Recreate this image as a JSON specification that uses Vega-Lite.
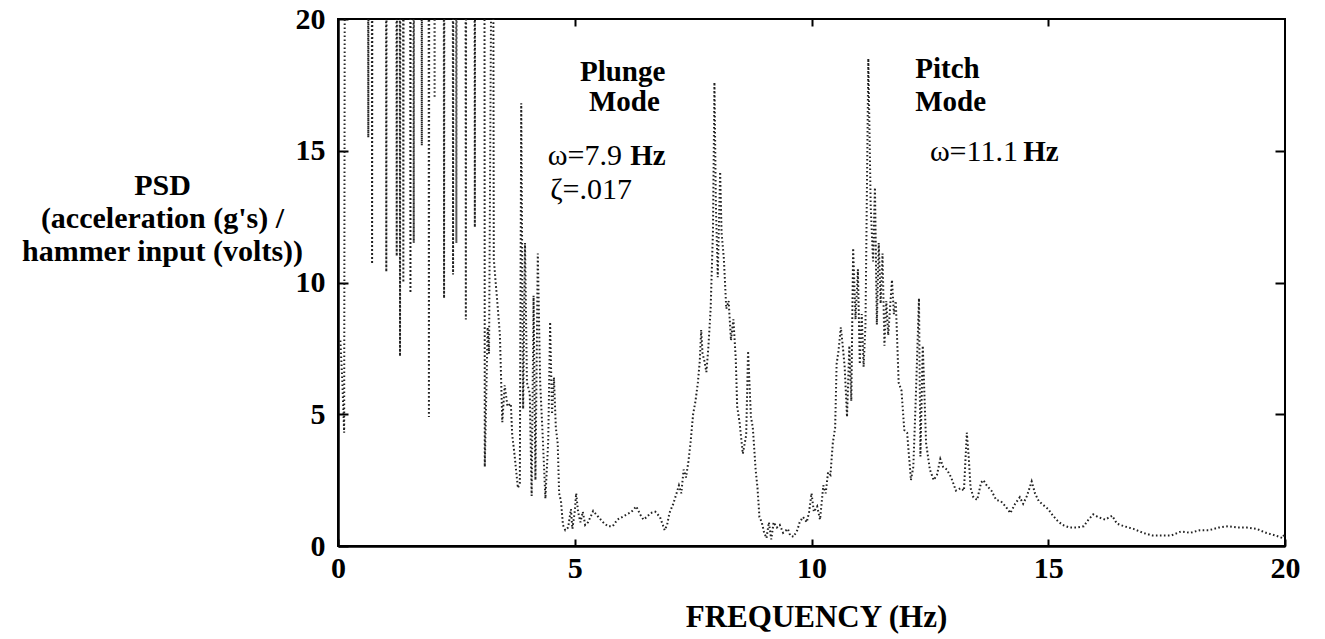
{
  "$schema": "https://vega.github.io/schema/vega-lite/v6.json",
  "width": 947,
  "height": 527,
  "autosize": "none",
  "padding": {"left": 338, "top": 19, "right": 40, "bottom": 93},
  "background": "white",
  "config": {
    "view": {"stroke": "black", "strokeWidth": 2},
    "font": "Liberation Serif"
  },
  "datasets": {
    "psd": [
      {"f": 0.05, "v": 7.8}, {"f": 0.09, "v": 6.3}, {"f": 0.13, "v": 4.3}, {"f": 0.15, "v": 32},
      {"f": 0.63, "v": 32}, {"f": 0.64, "v": 15.5}, {"f": 0.65, "v": 32},
      {"f": 0.71, "v": 32}, {"f": 0.72, "v": 10.7}, {"f": 0.73, "v": 32},
      {"f": 1.01, "v": 32}, {"f": 1.02, "v": 10.4}, {"f": 1.03, "v": 32},
      {"f": 1.23, "v": 32}, {"f": 1.24, "v": 11}, {"f": 1.25, "v": 32},
      {"f": 1.3, "v": 32}, {"f": 1.31, "v": 7.2}, {"f": 1.32, "v": 32},
      {"f": 1.37, "v": 32}, {"f": 1.38, "v": 10.0}, {"f": 1.39, "v": 32},
      {"f": 1.52, "v": 32}, {"f": 1.53, "v": 9.6}, {"f": 1.54, "v": 32},
      {"f": 1.59, "v": 32}, {"f": 1.6, "v": 11.5}, {"f": 1.61, "v": 32},
      {"f": 1.76, "v": 32}, {"f": 1.77, "v": 15.2}, {"f": 1.78, "v": 32},
      {"f": 1.91, "v": 32}, {"f": 1.92, "v": 4.9}, {"f": 1.93, "v": 32},
      {"f": 2.03, "v": 32}, {"f": 2.04, "v": 17}, {"f": 2.05, "v": 32},
      {"f": 2.23, "v": 32}, {"f": 2.24, "v": 9.4}, {"f": 2.25, "v": 32},
      {"f": 2.42, "v": 32}, {"f": 2.43, "v": 10.3}, {"f": 2.44, "v": 32},
      {"f": 2.49, "v": 32}, {"f": 2.5, "v": 11.5}, {"f": 2.51, "v": 32},
      {"f": 2.69, "v": 32}, {"f": 2.7, "v": 8.6}, {"f": 2.71, "v": 32},
      {"f": 2.88, "v": 32}, {"f": 2.89, "v": 12.1}, {"f": 2.9, "v": 32},
      {"f": 3.09, "v": 32}, {"f": 3.1, "v": 3.0}, {"f": 3.16, "v": 8.3},
      {"f": 3.19, "v": 7.3}, {"f": 3.27, "v": 32}, {"f": 3.29, "v": 10.9}, {"f": 3.42, "v": 8.0},
      {"f": 3.47, "v": 4.7}, {"f": 3.52, "v": 6.1}, {"f": 3.58, "v": 5.3}, {"f": 3.65, "v": 5.4},
      {"f": 3.68, "v": 4.2}, {"f": 3.72, "v": 3.6}, {"f": 3.8, "v": 2.2}, {"f": 3.84, "v": 2.4},
      {"f": 3.87, "v": 16.8}, {"f": 3.91, "v": 5.2}, {"f": 3.95, "v": 11.5}, {"f": 3.99, "v": 6.2},
      {"f": 4.05, "v": 5.8}, {"f": 4.09, "v": 1.9}, {"f": 4.13, "v": 9.5}, {"f": 4.17, "v": 2.5},
      {"f": 4.22, "v": 11.1}, {"f": 4.27, "v": 6.2}, {"f": 4.32, "v": 4.3}, {"f": 4.38, "v": 1.8},
      {"f": 4.44, "v": 4.0}, {"f": 4.48, "v": 8.5}, {"f": 4.52, "v": 5.0}, {"f": 4.56, "v": 6.4},
      {"f": 4.6, "v": 4.5}, {"f": 4.64, "v": 3.9}, {"f": 4.67, "v": 2.0}, {"f": 4.71, "v": 1.7},
      {"f": 4.75, "v": 0.8}, {"f": 4.8, "v": 0.6}, {"f": 4.86, "v": 0.7}, {"f": 4.92, "v": 1.4},
      {"f": 4.95, "v": 0.65}, {"f": 5.0, "v": 1.3}, {"f": 5.03, "v": 2.0}, {"f": 5.07, "v": 1.3},
      {"f": 5.12, "v": 0.9}, {"f": 5.17, "v": 1.3}, {"f": 5.22, "v": 0.8}, {"f": 5.28, "v": 0.9},
      {"f": 5.39, "v": 1.33}, {"f": 5.5, "v": 1.1}, {"f": 5.6, "v": 0.9}, {"f": 5.7, "v": 0.75},
      {"f": 5.8, "v": 0.75}, {"f": 5.9, "v": 1.0}, {"f": 6.0, "v": 1.1}, {"f": 6.1, "v": 1.2},
      {"f": 6.2, "v": 1.3}, {"f": 6.3, "v": 1.5}, {"f": 6.38, "v": 1.2}, {"f": 6.45, "v": 1.0},
      {"f": 6.52, "v": 1.1}, {"f": 6.6, "v": 1.25}, {"f": 6.7, "v": 1.3}, {"f": 6.8, "v": 1.1},
      {"f": 6.9, "v": 0.6}, {"f": 6.95, "v": 0.8}, {"f": 7.0, "v": 1.25}, {"f": 7.08, "v": 1.6},
      {"f": 7.15, "v": 2.0}, {"f": 7.2, "v": 2.3}, {"f": 7.25, "v": 2.0}, {"f": 7.3, "v": 2.9},
      {"f": 7.35, "v": 2.6}, {"f": 7.4, "v": 3.2}, {"f": 7.45, "v": 4.0}, {"f": 7.5, "v": 5.0},
      {"f": 7.55, "v": 5.5}, {"f": 7.6, "v": 6.2}, {"f": 7.64, "v": 7.0}, {"f": 7.67, "v": 8.2},
      {"f": 7.7, "v": 7.3}, {"f": 7.74, "v": 7.0}, {"f": 7.78, "v": 6.6}, {"f": 7.82, "v": 7.5},
      {"f": 7.87, "v": 9.0}, {"f": 7.92, "v": 12}, {"f": 7.95, "v": 17.6}, {"f": 7.98, "v": 13},
      {"f": 8.02, "v": 10.2}, {"f": 8.07, "v": 14.2}, {"f": 8.1, "v": 11.9}, {"f": 8.15, "v": 10.9},
      {"f": 8.2, "v": 9.0}, {"f": 8.25, "v": 9.3}, {"f": 8.3, "v": 7.8}, {"f": 8.35, "v": 8.6},
      {"f": 8.4, "v": 7.1}, {"f": 8.43, "v": 5.3}, {"f": 8.48, "v": 4.7}, {"f": 8.55, "v": 3.5},
      {"f": 8.62, "v": 4.2}, {"f": 8.66, "v": 7.4}, {"f": 8.72, "v": 4.9}, {"f": 8.76, "v": 4.5},
      {"f": 8.82, "v": 2.9}, {"f": 8.86, "v": 2.2}, {"f": 8.9, "v": 1.1}, {"f": 8.95, "v": 0.9},
      {"f": 9.0, "v": 0.5}, {"f": 9.05, "v": 0.3}, {"f": 9.1, "v": 0.9}, {"f": 9.15, "v": 0.25},
      {"f": 9.2, "v": 0.9}, {"f": 9.27, "v": 0.7}, {"f": 9.33, "v": 0.8}, {"f": 9.4, "v": 0.5},
      {"f": 9.5, "v": 0.65}, {"f": 9.55, "v": 0.4}, {"f": 9.62, "v": 0.35}, {"f": 9.7, "v": 0.6},
      {"f": 9.75, "v": 0.9}, {"f": 9.82, "v": 1.1}, {"f": 9.9, "v": 0.9}, {"f": 9.95, "v": 1.3},
      {"f": 10.0, "v": 2.0}, {"f": 10.05, "v": 1.3}, {"f": 10.12, "v": 1.5}, {"f": 10.18, "v": 1.0},
      {"f": 10.25, "v": 2.3}, {"f": 10.3, "v": 2.0}, {"f": 10.35, "v": 2.8}, {"f": 10.4, "v": 2.7},
      {"f": 10.45, "v": 3.9}, {"f": 10.5, "v": 4.5}, {"f": 10.53, "v": 6.9}, {"f": 10.57, "v": 7.4},
      {"f": 10.62, "v": 8.3}, {"f": 10.66, "v": 7.6}, {"f": 10.7, "v": 6.8}, {"f": 10.75, "v": 4.9},
      {"f": 10.8, "v": 7.6}, {"f": 10.84, "v": 5.5}, {"f": 10.88, "v": 11.3}, {"f": 10.93, "v": 8.6},
      {"f": 10.98, "v": 10.5}, {"f": 11.02, "v": 6.9}, {"f": 11.06, "v": 8.8}, {"f": 11.1, "v": 6.8},
      {"f": 11.14, "v": 8.4}, {"f": 11.2, "v": 18.5}, {"f": 11.25, "v": 12.9}, {"f": 11.3, "v": 10.8},
      {"f": 11.34, "v": 13.6}, {"f": 11.38, "v": 8.4}, {"f": 11.42, "v": 11.5}, {"f": 11.46, "v": 9.2},
      {"f": 11.5, "v": 11.1}, {"f": 11.54, "v": 7.6}, {"f": 11.58, "v": 9.3}, {"f": 11.62, "v": 8.0},
      {"f": 11.7, "v": 10.1}, {"f": 11.74, "v": 8.8}, {"f": 11.78, "v": 9.3}, {"f": 11.84, "v": 6.2},
      {"f": 11.9, "v": 5.9}, {"f": 11.96, "v": 4.4}, {"f": 12.02, "v": 4.3}, {"f": 12.1, "v": 2.5},
      {"f": 12.15, "v": 3.0}, {"f": 12.2, "v": 5.5}, {"f": 12.27, "v": 9.4}, {"f": 12.3, "v": 3.4},
      {"f": 12.35, "v": 7.6}, {"f": 12.42, "v": 3.9}, {"f": 12.5, "v": 2.9}, {"f": 12.58, "v": 2.5},
      {"f": 12.65, "v": 2.7}, {"f": 12.72, "v": 3.3}, {"f": 12.78, "v": 3.0}, {"f": 12.86, "v": 2.9},
      {"f": 12.95, "v": 2.6}, {"f": 13.05, "v": 2.1}, {"f": 13.15, "v": 2.2}, {"f": 13.22, "v": 2.1},
      {"f": 13.28, "v": 4.3}, {"f": 13.32, "v": 3.4}, {"f": 13.36, "v": 2.2}, {"f": 13.42, "v": 1.85},
      {"f": 13.5, "v": 1.75}, {"f": 13.58, "v": 2.4}, {"f": 13.63, "v": 2.5}, {"f": 13.7, "v": 2.3},
      {"f": 13.8, "v": 2.1}, {"f": 13.9, "v": 1.75}, {"f": 14.0, "v": 1.7}, {"f": 14.1, "v": 1.5},
      {"f": 14.2, "v": 1.25}, {"f": 14.3, "v": 1.6}, {"f": 14.4, "v": 1.85}, {"f": 14.47, "v": 1.6},
      {"f": 14.55, "v": 1.9}, {"f": 14.65, "v": 2.45}, {"f": 14.72, "v": 2.0}, {"f": 14.8, "v": 1.7},
      {"f": 14.9, "v": 1.55}, {"f": 15.0, "v": 1.4}, {"f": 15.1, "v": 1.15}, {"f": 15.2, "v": 0.95},
      {"f": 15.3, "v": 0.8}, {"f": 15.45, "v": 0.7}, {"f": 15.6, "v": 0.7}, {"f": 15.75, "v": 0.75},
      {"f": 15.85, "v": 1.0}, {"f": 15.95, "v": 1.2}, {"f": 16.05, "v": 1.1}, {"f": 16.2, "v": 1.0},
      {"f": 16.35, "v": 1.15}, {"f": 16.45, "v": 0.85}, {"f": 16.6, "v": 0.75}, {"f": 16.8, "v": 0.65},
      {"f": 17.0, "v": 0.5}, {"f": 17.2, "v": 0.4}, {"f": 17.4, "v": 0.4}, {"f": 17.6, "v": 0.4},
      {"f": 17.8, "v": 0.55}, {"f": 18.0, "v": 0.5}, {"f": 18.2, "v": 0.6}, {"f": 18.4, "v": 0.6},
      {"f": 18.6, "v": 0.7}, {"f": 18.8, "v": 0.75}, {"f": 19.0, "v": 0.7}, {"f": 19.2, "v": 0.7},
      {"f": 19.4, "v": 0.65}, {"f": 19.6, "v": 0.5}, {"f": 19.8, "v": 0.4}, {"f": 19.95, "v": 0.3},
      {"f": 20.0, "v": 0.5}
    ],
    "boldText": [
      {"f": 5.11, "v": 18.0, "t": "Plunge"},
      {"f": 5.3, "v": 16.85, "t": "Mode"},
      {"f": 6.17, "v": 14.8, "t": "Hz"},
      {"f": 12.19, "v": 18.1, "t": "Pitch"},
      {"f": 12.19, "v": 16.85, "t": "Mode"},
      {"f": 14.47, "v": 14.95, "t": "Hz"}
    ],
    "normalText": [
      {"f": 4.43, "v": 14.8, "t": "ω=7.9"},
      {"f": 4.48, "v": 13.5, "t": "ζ=.017"},
      {"f": 12.5, "v": 14.95, "t": "ω=11.1"}
    ]
  },
  "layer": [
    {
      "data": {"name": "psd"},
      "mark": {"type": "line", "clip": true, "stroke": "#222222", "strokeWidth": 2, "strokeDash": [1.6, 2.4], "strokeCap": "butt"},
      "encoding": {
        "x": {
          "field": "f", "type": "quantitative",
          "scale": {"domain": [0, 20], "nice": false, "zero": false},
          "axis": {
            "orient": "bottom", "values": [0, 5, 10, 15, 20], "grid": false,
            "domainColor": "black", "domainWidth": 2.5,
            "tickColor": "black", "tickWidth": 2, "tickSize": -7,
            "labelFont": "Liberation Serif", "labelFontWeight": "bold", "labelFontSize": 30, "labelColor": "black",
            "labelPadding": 29, "labelOverlap": false, "labelFlush": false, "labelBaseline": "middle",
            "title": "FREQUENCY (Hz)", "titleFont": "Liberation Serif", "titleFontWeight": "bold", "titleFontSize": 31,
            "titleColor": "black", "titleX": 478, "titleY": 80, "titleBaseline": "alphabetic", "titleAlign": "center"
          }
        },
        "y": {
          "field": "v", "type": "quantitative",
          "scale": {"domain": [0, 20], "nice": false, "zero": false},
          "axis": {
            "orient": "left", "values": [0, 5, 10, 15, 20], "grid": false,
            "domainColor": "black", "domainWidth": 2.5,
            "tickColor": "black", "tickWidth": 2, "tickSize": -10,
            "labelFont": "Liberation Serif", "labelFontWeight": "bold", "labelFontSize": 30, "labelColor": "black",
            "labelPadding": 23, "labelOverlap": false, "labelFlush": false, "labelBaseline": "middle", "labelAlign": "right",
            "title": ["PSD", "(acceleration (g's) /", "hammer input (volts))"],
            "titleFont": "Liberation Serif", "titleFontWeight": "bold", "titleFontSize": 30, "titleColor": "black",
            "titleAngle": 0, "titleAlign": "center", "titleBaseline": "alphabetic", "titleLineHeight": 33,
            "titleX": -176, "titleY": 175
          }
        }
      }
    },
    {
      "data": {"name": "boldText"},
      "mark": {"type": "text", "align": "left", "baseline": "middle", "font": "Liberation Serif", "fontWeight": "bold", "fontSize": 29, "color": "black"},
      "encoding": {
        "x": {"field": "f", "type": "quantitative",
          "axis": {"orient": "top", "values": [5, 10, 15], "labels": false, "title": null, "grid": false, "domain": false,
            "tickColor": "black", "tickWidth": 2, "tickSize": -7}},
        "y": {"field": "v", "type": "quantitative",
          "axis": {"orient": "right", "values": [5, 10, 15], "labels": false, "title": null, "grid": false, "domain": false,
            "tickColor": "black", "tickWidth": 2, "tickSize": -10}},
        "text": {"field": "t", "type": "nominal"}
      }
    },
    {
      "data": {"name": "normalText"},
      "mark": {"type": "text", "align": "left", "baseline": "middle", "font": "Liberation Serif", "fontWeight": "normal", "fontSize": 30, "color": "black"},
      "encoding": {
        "x": {"field": "f", "type": "quantitative", "axis": null},
        "y": {"field": "v", "type": "quantitative", "axis": null},
        "text": {"field": "t", "type": "nominal"}
      }
    }
  ],
  "resolve": {"axis": {"x": "independent", "y": "independent"}}
}
